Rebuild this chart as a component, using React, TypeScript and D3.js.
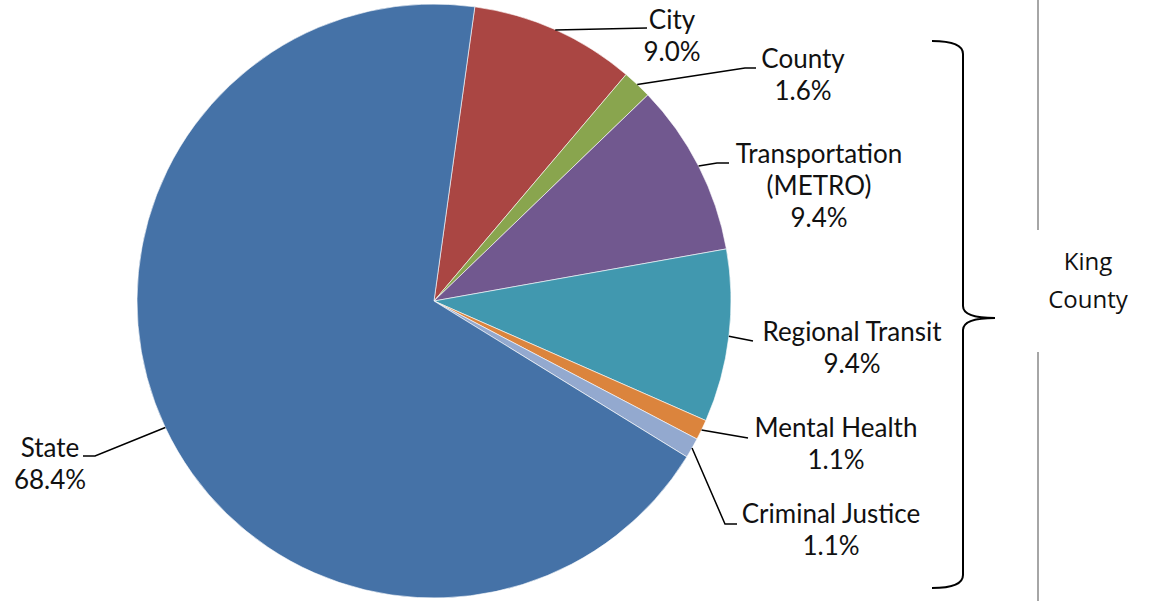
import React, { useEffect, useRef } from 'react';
import * as d3 from 'd3';

// slice order, clockwise from just right of 12 o'clock
const categories = ['City', 'County', 'Transportation (METRO)', 'Regional Transit', 'Mental Health', 'Criminal Justice', 'State'];
const shares = [9.0, 1.6, 9.4, 9.4, 1.1, 1.1, 68.4];
const labelLines = [
  ['City', '9.0%'],
  ['County', '1.6%'],
  ['Transportation', '(METRO)', '9.4%'],
  ['Regional Transit', '9.4%'],
  ['Mental Health', '1.1%'],
  ['Criminal Justice', '1.1%'],
  ['State', '68.4%'],
];
const colors = ['#AA4643', '#89A54E', '#71588F', '#4198AF', '#DB843D', '#93A9CF', '#4572A7'];

const WIDTH = 1150;
const HEIGHT = 601;

const App: React.FC = () => {
  const svgRef = useRef<SVGSVGElement>(null);

  useEffect(() => {
    const svg = d3.select(svgRef.current);
    svg.selectAll('*').remove();

    const cx = 434;
    const cy = 301;
    const radius = 297;
    const startDeg = 7.9;

    const pie = d3.pie<number>()
      .sort(null)
      .value(d => d)
      .startAngle((startDeg * Math.PI) / 180)
      .endAngle((startDeg * Math.PI) / 180 + 2 * Math.PI);

    const arcs = pie(shares);
    const arc = d3.arc<d3.PieArcDatum<number>>().innerRadius(0).outerRadius(radius);

    const g = svg.append('g').attr('transform', `translate(${cx},${cy})`);

    g.selectAll('path')
      .data(arcs)
      .enter()
      .append('path')
      .attr('d', arc)
      .attr('fill', (d, i) => colors[i])
      .attr('stroke', '#ffffff')
      .attr('stroke-width', 0.6);

    // label layout: text centre x, first baseline y, leader bend points (after the edge point)
    const labelLayout = [
      { x: 672, y: 29, leader: [[647, 28]] },
      { x: 803, y: 68, leader: [[745, 68], [756, 68]] },
      { x: 819, y: 163, leader: [[717, 163], [729, 163]] },
      { x: 852, y: 341, leader: [[753, 341]] },
      { x: 836, y: 437, leader: [[748, 438]] },
      { x: 831, y: 523, leader: [[725, 524], [737, 524]] },
      { x: 50, y: 457, leader: [[95, 456], [83, 456]] },
    ];

    const labels = svg.append('g');
    arcs.forEach((a, i) => {
      const mid = (a.startAngle + a.endAngle) / 2;
      const ex = cx + radius * Math.sin(mid);
      const ey = cy - radius * Math.cos(mid);
      const pts: [number, number][] = [[ex, ey], ...(labelLayout[i].leader as [number, number][])];
      labels.append('path')
        .attr('d', d3.line()(pts))
        .attr('fill', 'none')
        .attr('stroke', '#000')
        .attr('stroke-width', 1.5);

      const t = labels.append('text')
        .attr('text-anchor', 'middle')
        .attr('font-family', 'Lato, "Open Sans", sans-serif')
        .attr('font-size', 26)
        .attr('fill', '#111');
      labelLines[i].forEach((line, k) => {
        t.append('tspan')
          .attr('x', labelLayout[i].x)
          .attr('y', labelLayout[i].y + k * 32)
          .text(line);
      });
    });

    // brace grouping the King County slices
    svg.append('path')
      .attr('d', 'M932,41 Q963,41 963,54 L963,306 Q963,318 995,318 Q963,318 963,330 L963,575 Q963,588 932,588')
      .attr('fill', 'none')
      .attr('stroke', '#000')
      .attr('stroke-width', 2);

    svg.append('line')
      .attr('x1', 1038).attr('x2', 1038).attr('y1', 0).attr('y2', 230)
      .attr('stroke', '#a6a6a6').attr('stroke-width', 2);
    svg.append('line')
      .attr('x1', 1038).attr('x2', 1038).attr('y1', 352).attr('y2', HEIGHT)
      .attr('stroke', '#a6a6a6').attr('stroke-width', 2);

    const kc = svg.append('text')
      .attr('text-anchor', 'middle')
      .attr('font-family', '"Open Sans", sans-serif')
      .attr('font-size', 24)
      .attr('fill', '#111');
    ['King', 'County'].forEach((line, k) => {
      kc.append('tspan').attr('x', 1088).attr('y', 270 + k * 38).text(line);
    });
  }, []);

  return (
    <div style={{ position: 'fixed', left: 0, top: 0, width: WIDTH, height: HEIGHT, background: '#fff' }}>
      <svg ref={svgRef} width={WIDTH} height={HEIGHT}></svg>
    </div>
  );
};

export default App;
